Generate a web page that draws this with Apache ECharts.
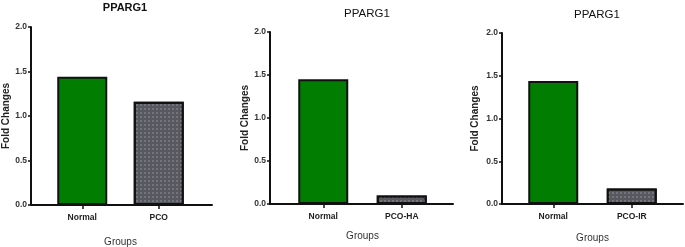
<!DOCTYPE html>
<html><head><meta charset="utf-8">
<script src="https://cdn.jsdelivr.net/npm/echarts@6/dist/echarts.min.js"></script>
<style>html,body{margin:0;padding:0;background:#fff}#c{width:685px;height:247px}</style>
</head><body><div id="c"></div>
<script>
const titles = ['PPARG1', 'PPARG1', 'PPARG1'];
const groups1 = ['Normal', 'PCO'];
const fold1 = [1.44, 1.16];
const groups2 = ['Normal', 'PCO-HA'];
const fold2 = [1.45, 0.10];
const groups3 = ['Normal', 'PCO-IR'];
const fold3 = [1.44, 0.18];
const yMin = 0, yMax = 2, yStep = 0.5;
const xName = 'Groups';
const yName = 'Fold Changes';

const barColors = ['#017d01', '#58585f'];
const FONT = 'Liberation Sans, Arial, sans-serif';
const layout = [
  {left: 44, width: 153, axLeft: 31, axWidth: 181, top: 27, height: 178, yoff: 13, tx: 120, ty: -3, tw: 'bold', ts: 11, xGap: 32, yGap: 20},
  {left: 284, width: 157, axLeft: 270, axWidth: 183, top: 32, height: 172, yoff: 14, tx: 362, ty: 3, tw: 'normal', ts: 11.5, xGap: 27, yGap: 20},
  {left: 514, width: 157, axLeft: 502, axWidth: 181, top: 33, height: 171, yoff: 12, tx: 592, ty: 4, tw: 'normal', ts: 11.5, xGap: 29, yGap: 22}
];
const groupsAll = [groups1, groups2, groups3];
const foldAll = [fold1, fold2, fold3];

const grid = [], xAxis = [], yAxis = [], series = [], title = [];
layout.forEach((L, i) => {
  grid.push({left: L.left, width: L.width, top: L.top, height: L.height, containLabel: false, outerBoundsMode: 'none'});
  grid.push({left: L.axLeft, width: L.axWidth, top: L.top, height: L.height, containLabel: false, outerBoundsMode: 'none'});
  title.push({text: titles[i], left: L.tx, top: L.ty, textAlign: 'center',
    textStyle: {fontFamily: FONT, fontSize: L.ts, fontWeight: L.tw, color: '#111'}});
  xAxis.push({type: 'category', gridIndex: 2 * i, data: groupsAll[i],
    axisLine: {show: false},
    axisTick: {show: true, alignWithLabel: true, length: 4, lineStyle: {color: '#111', width: 1.5}},
    axisLabel: {margin: 8, fontFamily: FONT, fontSize: 8.5, fontWeight: 'bold', color: '#222'},
    name: xName, nameLocation: 'middle', nameGap: L.xGap,
    nameTextStyle: {fontFamily: FONT, fontSize: 10, color: '#333'}});
  xAxis.push({type: 'value', gridIndex: 2 * i + 1, min: 0, max: 1,
    axisLine: {show: true, onZero: false, lineStyle: {color: '#111', width: 2}},
    axisTick: {show: false}, axisLabel: {show: false}, splitLine: {show: false}});
  yAxis.push({type: 'value', gridIndex: 2 * i, min: yMin, max: yMax, interval: yStep, offset: L.yoff,
    axisLine: {show: true, lineStyle: {color: '#111', width: 2}},
    axisTick: {show: true, length: 3, lineStyle: {color: '#111', width: 1.5}},
    splitLine: {show: false},
    axisLabel: {margin: 4, fontFamily: FONT, fontSize: 8.5, fontWeight: 'bold', color: '#333',
      formatter: v => v.toFixed(1)},
    name: yName, nameLocation: 'middle', nameGap: L.yGap,
    nameTextStyle: {fontFamily: FONT, fontSize: 10, fontWeight: 'bold', color: '#222'}});
  yAxis.push({type: 'value', gridIndex: 2 * i + 1, show: false, min: 0, max: 1});
  series.push({type: 'bar', xAxisIndex: 2 * i, yAxisIndex: 2 * i, barWidth: 50, animation: false,
    data: foldAll[i].map((v, j) => {
      const st = {color: barColors[j], borderColor: '#111', borderWidth: 2};
      if (j === 1) st.decal = {symbol: 'rect', symbolSize: 1, dashArrayX: [2, 2], dashArrayY: [2, 2],
        color: 'rgba(140,140,150,0.55)'};
      return {value: v, itemStyle: st};
    })});
});

const chart = echarts.init(document.getElementById('c'), null, {renderer: 'canvas'});
chart.setOption({animation: false, title, grid, xAxis, yAxis, series});
</script></body></html>
